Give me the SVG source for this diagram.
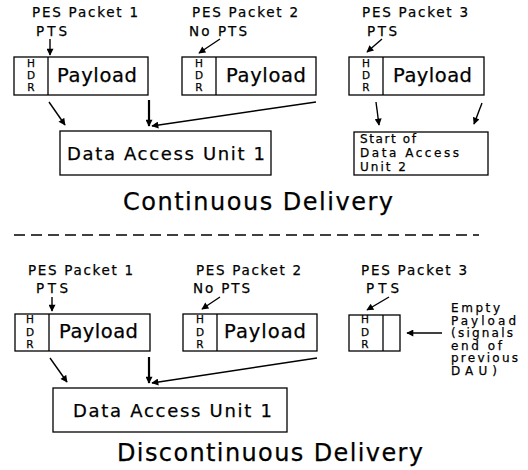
<svg xmlns="http://www.w3.org/2000/svg" width="528" height="470" viewBox="0 0 528 470">
<style>
text{font-family:"DejaVu Sans","Liberation Sans",Arial,sans-serif;fill:#000;stroke:#000;stroke-width:0.25}
.s{font-size:13.5px}
.n{font-size:12px}
.h{font-size:10.5px;text-anchor:middle}
.p{font-size:19.5px}
.d{font-size:18px}
.t{font-size:24px}
.b{fill:#fff;stroke:#000;stroke-width:1.3}
.l{stroke:#000;stroke-width:1.3;fill:none}
.a{stroke:#000;stroke-width:1.4;fill:none;marker-end:url(#ah)}
.k{stroke-width:2.2}
</style>
<defs>
<marker id="ah" viewBox="0 0 10 10" refX="9" refY="5" markerWidth="8" markerHeight="7" markerUnits="userSpaceOnUse" orient="auto">
<path d="M0,0 L10,5 L0,10 Z" fill="#000"/>
</marker>
</defs>
<rect width="528" height="470" fill="#fff" stroke="none"/>

<!-- Continuous delivery -->
<g id="c-p1">
<text class="s" x="32" y="17" textLength="106">PES Packet 1</text>
<text class="s" x="36" y="36" textLength="31">PTS</text>
<rect class="b" x="14" y="57" width="134" height="38"/>
<line class="l" x1="48" y1="57" x2="48" y2="95"/>
<text class="h" x="31" y="67">H</text><text class="h" x="31" y="79">D</text><text class="h" x="31" y="91">R</text>
<text class="p" x="57" y="82" textLength="80">Payload</text>
</g>
<g id="c-p2">
<text class="s" x="192" y="17" textLength="106">PES Packet 2</text>
<text class="s" x="189" y="36" textLength="58">No PTS</text>
<rect class="b" x="182" y="57" width="134" height="38"/>
<line class="l" x1="216" y1="57" x2="216" y2="95"/>
<text class="h" x="199" y="67">H</text><text class="h" x="199" y="79">D</text><text class="h" x="199" y="91">R</text>
<text class="p" x="226" y="82" textLength="80">Payload</text>
</g>
<g id="c-p3">
<text class="s" x="362" y="17" textLength="106">PES Packet 3</text>
<text class="s" x="367" y="36" textLength="30">PTS</text>
<rect class="b" x="349" y="57" width="135" height="38"/>
<line class="l" x1="383" y1="57" x2="383" y2="95"/>
<text class="h" x="366" y="67">H</text><text class="h" x="366" y="79">D</text><text class="h" x="366" y="91">R</text>
<text class="p" x="393" y="82" textLength="79">Payload</text>
</g>
<g id="c-dau1">
<rect class="b" x="60" y="131" width="211" height="44"/>
<text class="d" x="67" y="160" textLength="198">Data Access Unit 1</text>
</g>
<g id="c-dau2">
<rect class="b" x="354" y="132" width="134" height="43"/>
<text class="n" x="360" y="143" textLength="56">Start of</text>
<text class="n" x="360" y="157" textLength="99">Data Access</text>
<text class="n" x="360" y="171" textLength="46">Unit 2</text>
</g>
<text class="t" x="123" y="210" textLength="270">Continuous Delivery</text>
<line x1="14" y1="235" x2="479" y2="235" stroke="#000" stroke-width="1.6" stroke-dasharray="11 6"/>

<!-- Discontinuous delivery -->
<g id="d-p1">
<text class="s" x="28" y="275" textLength="105">PES Packet 1</text>
<text class="s" x="36" y="293" textLength="32">PTS</text>
<rect class="b" x="15" y="314" width="135" height="37"/>
<line class="l" x1="49" y1="314" x2="49" y2="351"/>
<text class="h" x="30" y="323">H</text><text class="h" x="30" y="336">D</text><text class="h" x="30" y="348">R</text>
<text class="p" x="59" y="338" textLength="79">Payload</text>
</g>
<g id="d-p2">
<text class="s" x="196" y="275" textLength="105">PES Packet 2</text>
<text class="s" x="193" y="293" textLength="57">No PTS</text>
<rect class="b" x="183" y="314" width="134" height="37"/>
<line class="l" x1="217" y1="314" x2="217" y2="351"/>
<text class="h" x="200" y="323">H</text><text class="h" x="200" y="336">D</text><text class="h" x="200" y="348">R</text>
<text class="p" x="224" y="338" textLength="82">Payload</text>
</g>
<g id="d-p3">
<text class="s" x="361" y="275" textLength="106">PES Packet 3</text>
<text class="s" x="366" y="293" textLength="33">PTS</text>
<rect class="b" x="349" y="315" width="51" height="36"/>
<line class="l" x1="383" y1="315" x2="383" y2="351"/>
<text class="h" x="365" y="323">H</text><text class="h" x="365" y="336">D</text><text class="h" x="365" y="348">R</text>
</g>
<g id="d-note">
<text class="n" x="451" y="312" textLength="49">Empty</text>
<text class="n" x="451" y="324.5" textLength="65">Payload</text>
<text class="n" x="451" y="337" textLength="62">(signals</text>
<text class="n" x="451" y="349.5" textLength="51">end of</text>
<text class="n" x="451" y="362" textLength="67">previous</text>
<text class="n" x="451" y="374.5" textLength="46">DAU)</text>
</g>
<g id="d-dau1">
<rect class="b" x="53" y="388" width="234" height="44"/>
<text class="d" x="73" y="417" textLength="199">Data Access Unit 1</text>
</g>
<text class="t" x="117" y="461" textLength="306">Discontinuous Delivery</text>

<g id="connectors">
<line class="a" x1="50" y1="39" x2="50" y2="55"/>
<line class="a" x1="220" y1="39" x2="199" y2="53"/>
<line class="a" x1="382" y1="39" x2="367" y2="52"/>
<line class="a" x1="49" y1="102" x2="65" y2="125"/>
<line class="a k" x1="149" y1="100" x2="149" y2="126"/>
<line class="a" x1="316" y1="102" x2="152" y2="126"/>
<line class="a" x1="376" y1="102" x2="379" y2="125"/>
<line class="a" x1="482" y1="103" x2="474" y2="124"/>

<line class="a" x1="52" y1="297" x2="52" y2="311"/>
<line class="a" x1="220" y1="297" x2="202" y2="309"/>
<line class="a" x1="389" y1="297" x2="367" y2="310"/>
<line class="a" x1="442" y1="333" x2="407" y2="333"/>
<line class="a" x1="50" y1="358" x2="67" y2="382"/>
<line class="a k" x1="149" y1="357" x2="149" y2="383"/>
<line class="a" x1="317" y1="358" x2="152" y2="383"/>
</g>
</svg>
